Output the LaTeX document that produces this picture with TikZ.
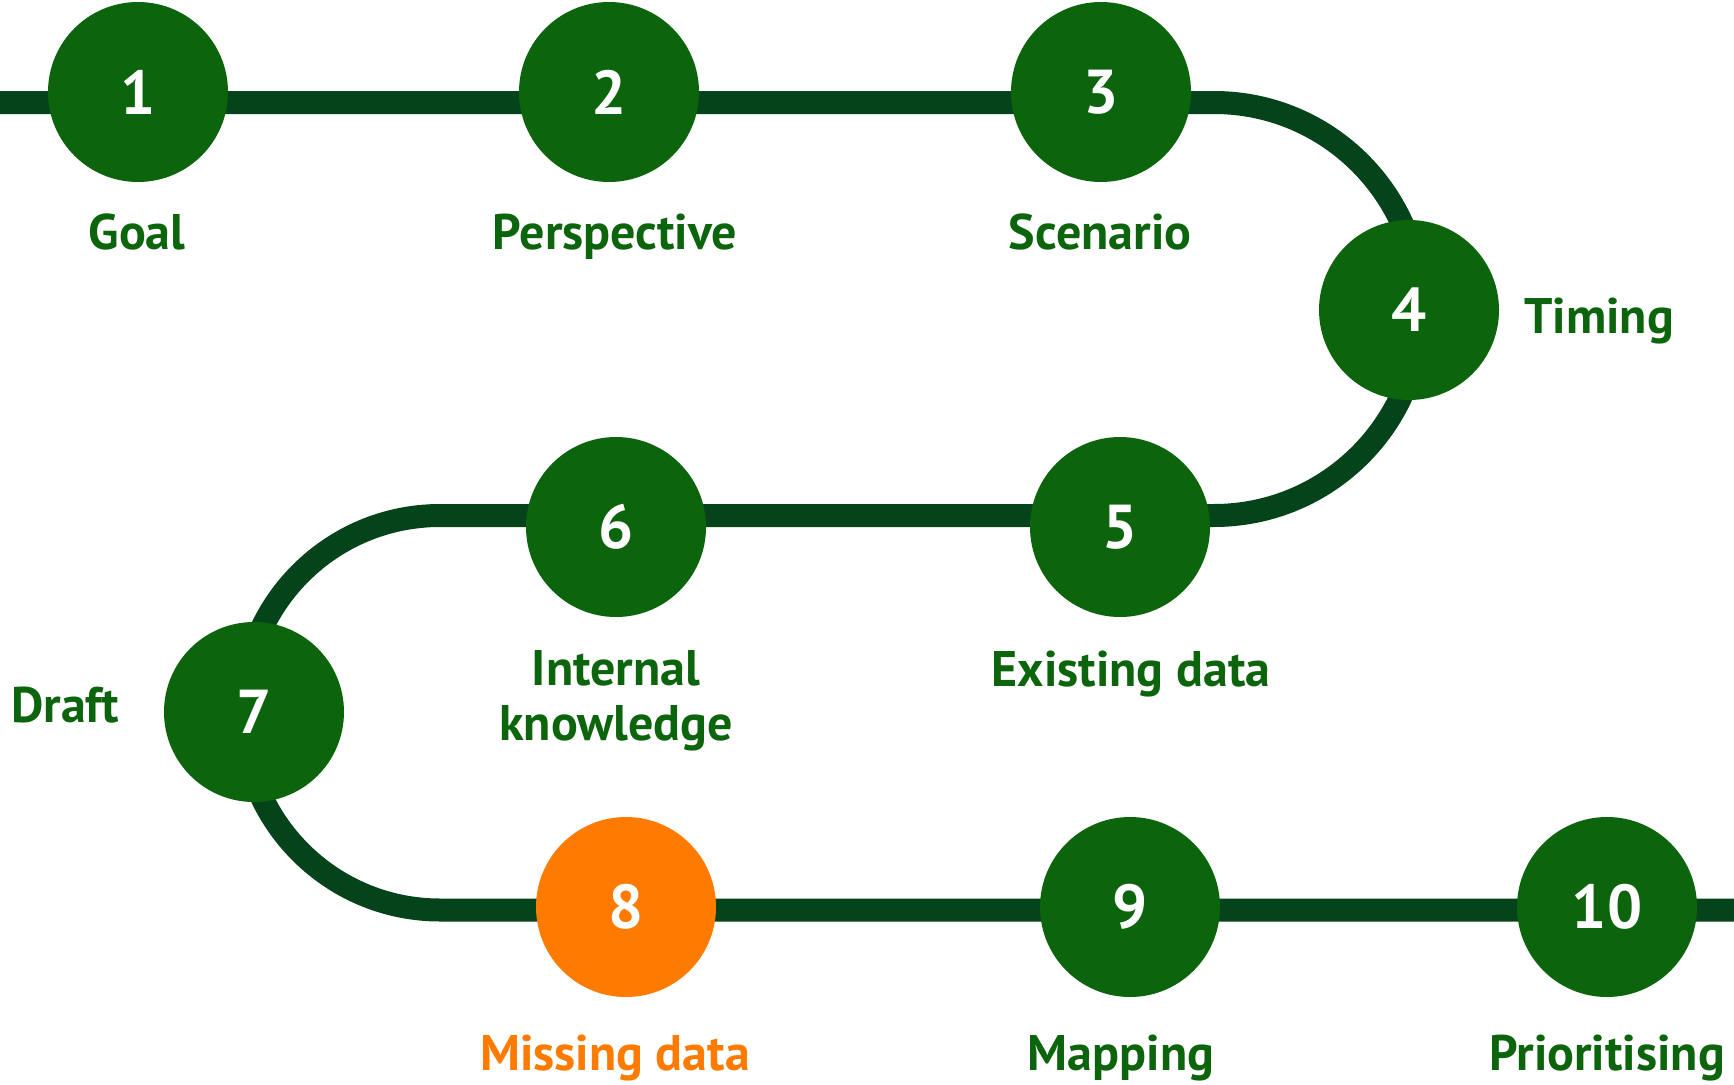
\documentclass[tikz,border=0pt]{standalone}
\usepackage{fontspec}
\setmainfont{PT Sans}
\definecolor{track}{HTML}{05441A}
\definecolor{stepgreen}{HTML}{0C640C}
\definecolor{steporange}{HTML}{FF7B00}
\begin{document}
\begin{tikzpicture}[x=1pt,y=-1pt,
  stepdot/.style={circle, fill=stepgreen, minimum size=180pt, inner sep=0pt,
    text=white, font=\bfseries\fontsize{62}{62}\selectfont},
  steplabel/.style={text=stepgreen, font=\bfseries\fontsize{50}{58}\selectfont,
    anchor=base, inner sep=0pt},
  trackline/.style={draw=track, line width=23pt}]
\useasboundingbox (0,0) rectangle (1734,1084);

% track route
\coordinate (start) at (0,102.5);
\coordinate (turnA) at (1214,102.5);
\coordinate (turnB) at (440,515.5);
\coordinate (finish) at (1734,910);
\draw[trackline] (start) -- (turnA)
  arc[start angle=-90, end angle=90, radius=206.5] -- (turnB)
  arc[start angle=270, end angle=90, radius=197.25] -- (finish);

% steps
\node[stepdot] (s1) at (138,92) {1};
\node[stepdot] (s2) at (609,92) {2};
\node[stepdot] (s3) at (1101,92) {3};
\node[stepdot] (s4) at (1409,310) {4};
\node[stepdot] (s5) at (1120,527) {5};
\node[stepdot] (s6) at (616,527) {6};
\node[stepdot] (s7) at (254,712) {7};
\node[stepdot, fill=steporange] (s8) at (626,907) {8};
\node[stepdot] (s9) at (1130,907) {9};
\node[stepdot] (s10) at (1607,907) {10};

% labels
\node[steplabel] (l1) at (137,249) {Goal};
\node[steplabel] (l2) at (615,249) {Perspective};
\node[steplabel] (l3) at (1100,249) {Scenario};
\node[steplabel, anchor=base west] (l4) at (1524,333) {Timing};
\node[steplabel] (l5) at (1131,686) {Existing data};
\node[steplabel] (l6a) at (616,685) {Internal};
\node[steplabel] (l6b) at (616,740) {knowledge};
\node[steplabel] (l7) at (65,722) {Draft};
\node[steplabel, text=steporange] (l8) at (615,1070) {Missing data};
\node[steplabel] (l9) at (1121,1070) {Mapping};
\node[steplabel] (l10) at (1607,1070) {Prioritising};
\end{tikzpicture}
\end{document}
